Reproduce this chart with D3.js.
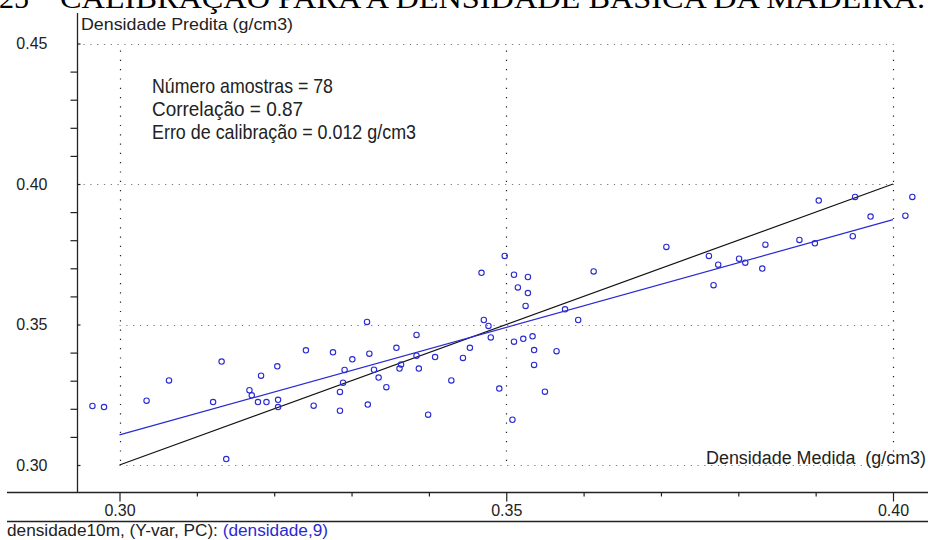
<!DOCTYPE html>
<html>
<head>
<meta charset="utf-8">
<script src="https://cdn.jsdelivr.net/npm/d3@7"></script>
<style>
  body { margin: 0; background: #fff; }
  text { font-family: "Liberation Sans", Arial, sans-serif; }
</style>
</head>
<body>
<div id="chart"></div>
<script>
// measured density (x) and predicted density (y), g/cm3
var medida = [0.2965, 0.2980, 0.3035, 0.3064, 0.3132, 0.3121, 0.3138, 0.3168, 0.3171, 0.3179,
  0.3183, 0.3190, 0.3204, 0.3205, 0.3205, 0.3241, 0.3251, 0.3276, 0.3291, 0.3289,
  0.3285, 0.3285, 0.3301, 0.3320, 0.3323, 0.3329, 0.3335, 0.3345, 0.3321, 0.3358,
  0.3362, 0.3364, 0.3384, 0.3384, 0.3387, 0.3399, 0.3408, 0.3429, 0.3444, 0.3453,
  0.3468, 0.3471, 0.3477, 0.3480, 0.3491, 0.3498, 0.3510, 0.3515, 0.3528, 0.3528,
  0.3525, 0.3510, 0.3522, 0.3534, 0.3536, 0.3536, 0.3508, 0.3550, 0.3565, 0.3576,
  0.3593, 0.3613, 0.3707, 0.3762, 0.3768, 0.3774, 0.3801, 0.3809, 0.3831, 0.3835,
  0.3879, 0.3899, 0.3904, 0.3948, 0.3951, 0.3971, 0.4016, 0.4025];
var predita = [0.3210, 0.3206, 0.3229, 0.3301, 0.3368, 0.3224, 0.3021, 0.3266, 0.3248, 0.3224,
  0.3318, 0.3224, 0.3351, 0.3232, 0.3206, 0.3408, 0.3211, 0.3401, 0.3338, 0.3293,
  0.3260, 0.3193, 0.3376, 0.3509, 0.3396, 0.3339, 0.3311, 0.3277, 0.3215, 0.3417,
  0.3343, 0.3358, 0.3463, 0.3389, 0.3343, 0.3179, 0.3384, 0.3301, 0.3381, 0.3417,
  0.3684, 0.3516, 0.3495, 0.3454, 0.3272, 0.3744, 0.3677, 0.3632, 0.3669, 0.3612,
  0.3566, 0.3439, 0.3449, 0.3458, 0.3409, 0.3356, 0.3161, 0.3261, 0.3405, 0.3554,
  0.3516, 0.3689, 0.3776, 0.3744, 0.3640, 0.3713, 0.3734, 0.3720, 0.3699, 0.3784,
  0.3801, 0.3789, 0.3941, 0.3814, 0.3954, 0.3884, 0.3887, 0.3954];

// 1:1 line and fitted regression line (end points)
var linhaIdeal = [[0.30, 0.30], [0.40, 0.40]];
var linhaAjuste = [[0.30, 0.3107], [0.40, 0.3873]];

var xMajor = [0.30, 0.35, 0.40];
var xMinor = [0.31, 0.32, 0.33, 0.34, 0.36, 0.37, 0.38, 0.39];
var yMajor = [0.30, 0.35, 0.40, 0.45];
var yMinor = [0.31, 0.32, 0.33, 0.34, 0.36, 0.37, 0.38, 0.39, 0.41, 0.42, 0.43, 0.44];

var estatisticas = ["Número amostras = 78", "Correlação = 0.87", "Erro de calibração = 0.012 g/cm3"];

var width = 928, height = 540;
var axisX = 77.5, axisY = 492.5;
var blue = "#2a2ad2";

var svg = d3.select("#chart")
  .append("svg")
  .attr("width", width)
  .attr("height", height);

var x = d3.scaleLinear().domain([0.30, 0.40]).range([119.5, 893]);
var y = d3.scaleLinear().domain([0.30, 0.45]).range([465, 43.5]);

// title (cut off at the top of the picture, as in the scanned page)
svg.append("text")
  .attr("x", -1).attr("y", 8)
  .style("font-family", "'Liberation Serif', 'Times New Roman', serif")
  .style("font-size", "30px")
  .text("25");
svg.append("text")
  .attr("x", 60).attr("y", 8)
  .attr("textLength", 865)
  .attr("lengthAdjust", "spacingAndGlyphs")
  .style("font-family", "'Liberation Serif', 'Times New Roman', serif")
  .style("font-size", "30px")
  .text("CALIBRAÇÃO PARA A DENSIDADE BÁSICA DA MADEIRA.");

// dotted grid
svg.append("g")
  .selectAll("line")
  .data(yMajor)
  .enter()
  .append("line")
    .attr("x1", function(d) { return d >= 0.40 ? axisX + 6 : x(0.30); })
    .attr("x2", x(0.40) + 1)
    .attr("y1", function(d) { return Math.round(y(d)) + 0.5; })
    .attr("y2", function(d) { return Math.round(y(d)) + 0.5; })
    .style("stroke", "#777")
    .style("stroke-width", 1.2)
    .style("stroke-dasharray", "1.2,5.6");

svg.append("g")
  .selectAll("line")
  .data(xMajor)
  .enter()
  .append("line")
    .attr("x1", function(d) { return Math.round(x(d)) + 0.5; })
    .attr("x2", function(d) { return Math.round(x(d)) + 0.5; })
    .attr("y1", y(0.45) + 7)
    .attr("y2", y(0.30))
    .style("stroke", "#222")
    .style("stroke-width", 1.2)
    .style("stroke-dasharray", "1.2,8.1");

// y axis
svg.append("line")
  .attr("x1", axisX).attr("x2", axisX)
  .attr("y1", 13).attr("y2", axisY)
  .style("stroke", "#222").style("stroke-width", 1.3);

svg.append("g")
  .attr("transform", "translate(" + axisX + ",0)")
  .call(d3.axisLeft(y).tickValues(yMajor).tickSize(23).tickPadding(7).tickFormat(d3.format(".2f")))
  .call(function(g) { g.select(".domain").remove(); })
  .call(function(g) { g.selectAll(".tick line").attr("x2", 3).style("stroke", "#222").style("stroke-width", 1.2); })
  .call(function(g) { g.selectAll(".tick text").style("fill", "#222").style("font-size", "16px").style("font-family", "'Liberation Sans', Arial, sans-serif"); });

svg.append("g")
  .attr("transform", "translate(" + axisX + ",0)")
  .call(d3.axisLeft(y).tickValues(yMinor).tickSize(7).tickFormat(""))
  .call(function(g) { g.select(".domain").remove(); })
  .call(function(g) { g.selectAll(".tick line").style("stroke", "#222").style("stroke-width", 1.2); });

// x axis
svg.append("line")
  .attr("x1", 7).attr("x2", width)
  .attr("y1", axisY).attr("y2", axisY)
  .style("stroke", "#222").style("stroke-width", 1.3);

svg.append("g")
  .attr("transform", "translate(0," + axisY + ")")
  .call(d3.axisBottom(x).tickValues(xMajor).tickSize(9).tickPadding(3).tickFormat(d3.format(".2f")))
  .call(function(g) { g.select(".domain").remove(); })
  .call(function(g) { g.selectAll(".tick line").style("stroke", "#222").style("stroke-width", 1.2); })
  .call(function(g) { g.selectAll(".tick text").style("fill", "#222").style("font-size", "16px").style("font-family", "'Liberation Sans', Arial, sans-serif"); });

svg.append("g")
  .attr("transform", "translate(0," + axisY + ")")
  .call(d3.axisBottom(x).tickValues(xMinor).tickSize(4).tickFormat(""))
  .call(function(g) { g.select(".domain").remove(); })
  .call(function(g) { g.selectAll(".tick line").style("stroke", "#222").style("stroke-width", 1.2); });

// bottom separator and status text
svg.append("line")
  .attr("x1", 7).attr("x2", width)
  .attr("y1", 521.5).attr("y2", 521.5)
  .style("stroke", "#222").style("stroke-width", 1.3);

var statusText = svg.append("text")
  .attr("x", 7).attr("y", 536)
  .attr("textLength", 321)
  .attr("lengthAdjust", "spacingAndGlyphs")
  .style("font-size", "16px")
  .style("fill", "#222");
statusText.append("tspan").text("densidade10m, (Y-var, PC): ");
statusText.append("tspan").style("fill", blue).text("(densidade,9)");

// axis titles
svg.append("text")
  .attr("x", 81).attr("y", 30)
  .attr("textLength", 212)
  .attr("lengthAdjust", "spacingAndGlyphs")
  .style("font-size", "17px")
  .style("fill", "#222")
  .text("Densidade Predita (g/cm3)");

svg.append("text")
  .attr("x", 706).attr("y", 464)
  .attr("textLength", 220)
  .attr("lengthAdjust", "spacingAndGlyphs")
  .style("font-size", "18px")
  .style("fill", "#222")
  .text("Densidade Medida\u00a0\u00a0(g/cm3)");

// statistics box
var statWidths = [181, 151, 264];
svg.append("g")
  .selectAll("text")
  .data(estatisticas)
  .enter()
  .append("text")
    .attr("x", 152)
    .attr("y", function(d, i) { return 93 + i * 23; })
    .attr("textLength", function(d, i) { return statWidths[i]; })
    .attr("lengthAdjust", "spacingAndGlyphs")
    .style("font-size", "21px")
    .style("fill", "#222")
    .text(function(d) { return d; });

// lines
var line = d3.line()
  .x(function(d) { return x(d[0]); })
  .y(function(d) { return y(d[1]); });

svg.append("path")
  .datum(linhaIdeal)
  .attr("d", line)
  .style("fill", "none")
  .style("stroke", "#111")
  .style("stroke-width", 1.2);

svg.append("path")
  .datum(linhaAjuste)
  .attr("d", line)
  .style("fill", "none")
  .style("stroke", blue)
  .style("stroke-width", 1.2);

// points
svg.append("g")
  .selectAll("circle")
  .data(medida)
  .enter()
  .append("circle")
    .attr("cx", function(d) { return x(d); })
    .attr("cy", function(d, i) { return y(predita[i]); })
    .attr("r", 2.7)
    .style("fill", "none")
    .style("stroke", blue)
    .style("stroke-width", 1.1);
</script>
</body>
</html>
